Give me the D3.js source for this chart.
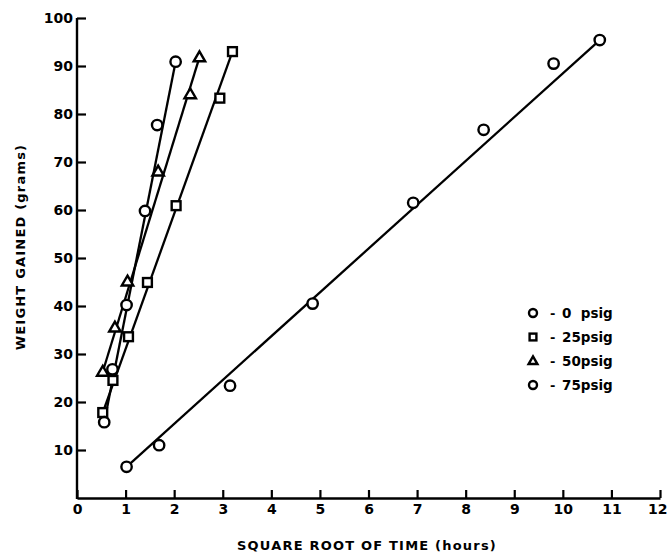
<!DOCTYPE html>
<html>
<head>
<meta charset="utf-8">
<script src="https://cdn.jsdelivr.net/npm/d3@7"></script>
<style>
  html, body { margin: 0; padding: 0; background: #fff; }
  svg text { font-family: "DejaVu Sans", "Liberation Sans", Arial, sans-serif; font-weight: bold; fill: #000; }
</style>
</head>
<body>
<svg id="chart" width="668" height="553"></svg>
<script>
// Weight gained vs. square root of time, four pressures
const seriesNames = ["0 psig", "25psig", "50psig", "75psig"];
const seriesShapes = ["circle", "square", "triangle", "circle"];

const x0 = [1.02, 1.69, 3.15, 4.85, 6.92, 8.37, 9.81, 10.76];
const y0 = [6.5, 11.0, 23.4, 40.5, 61.5, 76.7, 90.5, 95.4];

const x25 = [0.53, 0.74, 1.06, 1.45, 2.04, 2.94, 3.20];
const y25 = [17.8, 24.5, 33.6, 44.9, 60.9, 83.3, 93.0];

const x50 = [0.53, 0.78, 1.04, 1.67, 2.33, 2.52];
const y50 = [26.3, 35.5, 45.1, 68.0, 84.1, 91.8];

const x75 = [0.56, 0.73, 1.02, 1.40, 1.65, 2.03];
const y75 = [15.8, 26.8, 40.2, 59.8, 77.7, 90.9];

// straight-line fits: [start, end]
const fitX = [[1.02, 10.76], [0.53, 3.20], [0.53, 2.52], [0.56, 2.03]];
const fitY = [[6.5, 95.4], [17.8, 93.0], [26.3, 91.8], [15.8, 90.9]];

const xTicks = [0, 1, 2, 3, 4, 5, 6, 7, 8, 9, 10, 11, 12];
const yTicks = [10, 20, 30, 40, 50, 60, 70, 80, 90, 100];

const xTitle = "SQUARE ROOT OF TIME (hours)";
const yTitle = "WEIGHT GAINED (grams)";

const seriesX = [x0, x25, x50, x75];
const seriesY = [y0, y25, y50, y75];

const svg = d3.select("#chart");
const x = d3.scaleLinear().domain([0, 12]).range([77, 660]);
const y = d3.scaleLinear().domain([0, 100]).range([498, 18]);

// axes with inward ticks
const gx = svg.append("g").attr("transform", `translate(0,${y(0)})`)
  .call(d3.axisBottom(x).tickValues(xTicks).tickFormat(d3.format("d"))
    .tickSizeInner(-8).tickSizeOuter(0).tickPadding(6));
const gy = svg.append("g").attr("transform", `translate(${x(0)},0)`)
  .call(d3.axisLeft(y).tickValues(yTicks).tickFormat(d3.format("d"))
    .tickSizeInner(-9).tickSizeOuter(0).tickPadding(4));

[gx, gy].forEach(g => {
  g.selectAll("path.domain").attr("stroke", "#000").attr("stroke-width", 2.4);
  g.selectAll(".tick line").attr("stroke", "#000").attr("stroke-width", 2.2);
  g.selectAll(".tick text").style("font-size", "14px").attr("fill", "#000");
});
gy.select("path.domain").attr("d", `M0,${y(0) + 1}V${y(100)}`);
// keep the last x label inside the frame
gx.selectAll(".tick text").filter(d => d === 12)
  .attr("text-anchor", "end").attr("x", 7);

// axis titles
svg.append("text")
  .attr("x", 367).attr("y", 550)
  .attr("text-anchor", "middle")
  .style("font-size", "13px").style("letter-spacing", "1.2px")
  .text(xTitle);
svg.append("text")
  .attr("transform", "translate(25,247) rotate(-90)")
  .attr("text-anchor", "middle")
  .style("font-size", "13px").style("letter-spacing", "1.2px")
  .text(yTitle);

// fitted lines
const line = d3.line().x(d => x(d[0])).y(d => y(d[1]));
fitX.forEach((fx, i) => {
  svg.append("path")
    .attr("d", line([[fx[0], fitY[i][0]], [fx[1], fitY[i][1]]]))
    .attr("fill", "none").attr("stroke", "#000").attr("stroke-width", 2.3);
});

function drawMarker(g, shape, cx, cy, s) {
  if (shape === "circle") {
    g.append("circle").attr("cx", cx).attr("cy", cy).attr("r", s)
      .attr("fill", "#fff").attr("stroke", "#000").attr("stroke-width", 2.4);
  } else if (shape === "square") {
    g.append("rect").attr("x", cx - s * 0.85).attr("y", cy - s * 0.85)
      .attr("width", s * 1.7).attr("height", s * 1.7)
      .attr("fill", "#fff").attr("stroke", "#000").attr("stroke-width", 2.4);
  } else {
    const h = s * 1.9;
    g.append("path")
      .attr("d", `M${cx},${cy - h * 0.6}L${cx + h * 0.58},${cy + h * 0.4}L${cx - h * 0.58},${cy + h * 0.4}Z`)
      .attr("fill", "#fff").attr("stroke", "#000").attr("stroke-width", 2.4)
      .attr("stroke-linejoin", "miter");
  }
}

// data points
const pts = svg.append("g");
seriesX.forEach((xs, i) => {
  xs.forEach((v, j) => drawMarker(pts, seriesShapes[i], x(v), y(seriesY[i][j]), 5.2));
});

// legend
const legend = svg.append("g");
const legendRows = [313, 337, 361, 385];
seriesNames.forEach((name, i) => {
  drawMarker(legend, seriesShapes[i], 533, legendRows[i], 4);
  legend.append("text").attr("x", 550).attr("y", legendRows[i] + 5)
    .style("font-size", "13px").text("-");
  legend.append("text").attr("x", 562).attr("y", legendRows[i] + 5)
    .style("font-size", "13.5px").style("white-space", "pre")
    .text(name.replace(" ", "  "));
});
</script>
</body>
</html>
